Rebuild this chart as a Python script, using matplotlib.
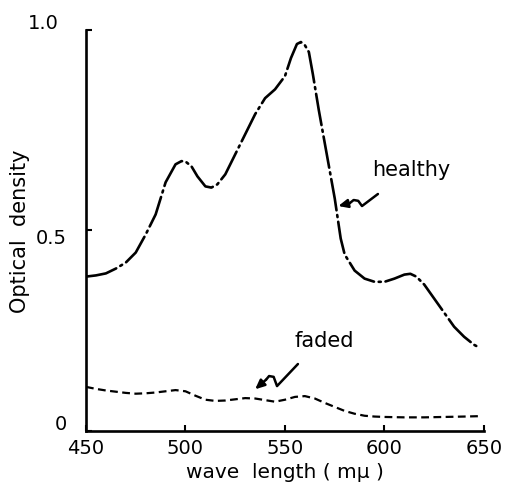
import matplotlib
matplotlib.use("Agg")
from matplotlib import pyplot as plt
from matplotlib.transforms import ScaledTranslation

# wavelength (m-mu) and optical density
wl_healthy = [450, 455, 460, 465, 470, 475, 480, 485, 490, 495, 498, 500, 503, 506,
              510, 513, 516, 520, 525, 530, 535, 540, 545, 550, 553, 556, 558, 560,
              562, 564, 567, 571, 575, 578, 580, 585, 590, 595, 600, 605, 610, 613,
              616, 620, 625, 630, 635, 640, 645, 648]
od_healthy = [0.385, 0.388, 0.393, 0.405, 0.42, 0.445, 0.49, 0.54, 0.62, 0.665, 0.673,
              0.672, 0.66, 0.635, 0.61, 0.607, 0.615, 0.64, 0.69, 0.74, 0.79, 0.83,
              0.852, 0.885, 0.93, 0.965, 0.97, 0.962, 0.945, 0.89, 0.80, 0.69, 0.58,
              0.48, 0.44, 0.40, 0.38, 0.372, 0.372, 0.38, 0.39, 0.392, 0.385, 0.365,
              0.33, 0.295, 0.26, 0.235, 0.215, 0.207]

wl_faded = [450, 455, 460, 465, 470, 475, 480, 485, 490, 495, 500, 505, 510, 515, 520,
            525, 530, 535, 540, 545, 550, 555, 560, 565, 570, 575, 580, 585, 590, 595,
            600, 610, 620, 630, 640, 648]
od_faded = [0.110, 0.105, 0.101, 0.098, 0.095, 0.093, 0.094, 0.096, 0.099, 0.102, 0.099,
            0.088, 0.078, 0.075, 0.076, 0.079, 0.082, 0.081, 0.077, 0.073, 0.078, 0.085,
            0.087, 0.081, 0.070, 0.060, 0.050, 0.043, 0.038, 0.036, 0.035, 0.034, 0.034,
            0.035, 0.036, 0.037]

x_ticks = [450, 500, 550, 600, 650]
y_ticks = [0, 0.5, 1.0]
y_tick_labels = ['0', '0.5', '1.0']

# squiggly pointer arrows (data coords)
healthy_squiggle = [(596.7, 0.591), (588.7, 0.561), (586.8, 0.574), (584.5, 0.576),
                    (582.5, 0.568)]
healthy_head = (576.8, 0.561)
faded_squiggle = [(556.5, 0.167), (546, 0.112), (544.3, 0.135), (542, 0.137), (540.5, 0.128)]
faded_head = (535, 0.104)

plt.rcParams['font.family'] = ['DejaVu Sans']
fig = plt.figure(figsize=(5.07, 4.85), dpi=100)
ax = fig.add_axes([0.1696, 0.1093, 0.7850, 0.8268])

ax.plot(wl_healthy, od_healthy, color='black', lw=1.9,
        dashes=(12, 1.8, 0.8, 1.8), solid_capstyle='round', dash_capstyle='round')
ax.plot(wl_faded, od_faded, color='black', lw=1.6, dashes=(3.5, 2.0))

# arrows
for sq, head in [(healthy_squiggle, healthy_head), (faded_squiggle, faded_head)]:
    xs, ys = zip(*sq)
    ax.plot(xs, ys, color='black', lw=1.8, solid_capstyle='round', solid_joinstyle='round')
    ax.annotate('', xy=head, xytext=sq[-1],
                arrowprops=dict(arrowstyle='-|>,head_length=0.55,head_width=0.25',
                                color='black', lw=1.8, shrinkA=0, shrinkB=0))

ax.text(613.3, 0.653, 'healthy', fontsize=15, ha='center', va='center')
ax.text(569.6, 0.227, 'faded', fontsize=15, ha='center', va='center')

ax.set_xlim(450, 650)
ax.set_ylim(0, 1.0)
ax.set_xticks(x_ticks)
ax.set_yticks(y_ticks)
ax.set_yticklabels(y_tick_labels)
ax.tick_params(direction='in', length=4, width=1.5, labelsize=14, pad=5)
ax.tick_params(axis='y', pad=14)

# the hand-lettered y labels sit a little off their ticks
offsets = [(0, 9), (0, -5), (-8, 9)]
for lab, (dx, dy) in zip(ax.get_yticklabels(), offsets):
    lab.set_transform(lab.get_transform() + ScaledTranslation(dx / 100, dy / 100, fig.dpi_scale_trans))

for side in ['top', 'right']:
    ax.spines[side].set_visible(False)
for side in ['left', 'bottom']:
    ax.spines[side].set_linewidth(1.9)

ax.set_xlabel('wave  length ( mμ )', fontsize=14.5, va='center')
ax.xaxis.set_label_coords(0.5, -0.1)
ax.set_ylabel('Optical  density', fontsize=15, va='center')
ax.yaxis.set_label_coords(-0.166, 0.5)

fig.savefig('out.png', dpi=100)
